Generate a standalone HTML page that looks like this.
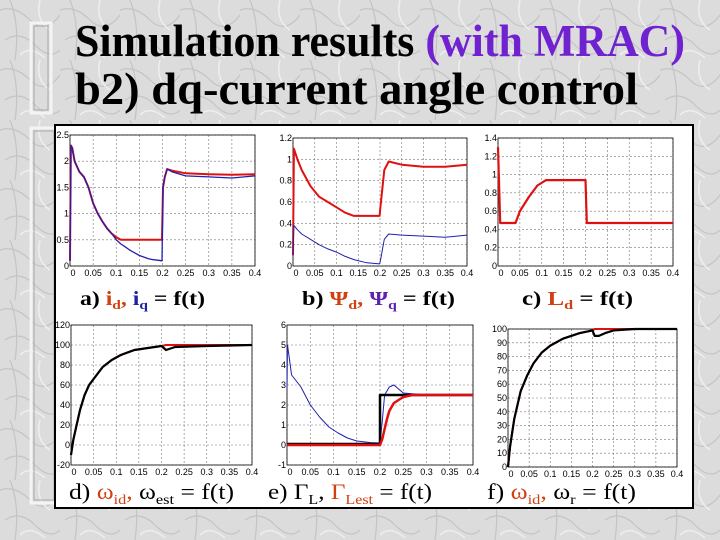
<!DOCTYPE html>
<html><head><meta charset="utf-8"><style>
html,body{margin:0;padding:0;width:720px;height:540px;overflow:hidden;background:#d9d9d9}
svg{display:block}
</style></head><body>
<svg id="s" width="720" height="540" xmlns="http://www.w3.org/2000/svg" font-family="Liberation Serif, serif">
<defs>
<pattern id="marb" width="60" height="60" patternUnits="userSpaceOnUse">
<rect width="60" height="60" fill="#dcdcdc"/>
<path d="M0 10 Q15 5 30 20 T60 15 M5 40 Q20 30 35 45 T60 50 M10 0 Q20 25 15 60" stroke="#c4c4c4" stroke-width="1.2" fill="none"/>
<path d="M40 0 Q35 20 50 30 M20 55 Q30 45 45 58" stroke="#efefef" stroke-width="1.5" fill="none"/>
</pattern>
</defs>
<rect width="720" height="540" fill="url(#marb)"/>
<g>
<rect x="31" y="23" width="20" height="90" fill="none" stroke="#f4f4f4" stroke-width="3"/>
<rect x="34" y="26" width="14" height="84" fill="none" stroke="#a8a8a8" stroke-width="1"/>
<rect x="31" y="128" width="24" height="375" fill="none" stroke="#f4f4f4" stroke-width="3"/>
<rect x="34" y="131" width="20" height="369" fill="none" stroke="#a8a8a8" stroke-width="1"/>
</g>
<text x="75" y="56" font-size="45" font-weight="bold" textLength="610" lengthAdjust="spacingAndGlyphs">Simulation results <tspan fill="#7022d0">(with MRAC)</tspan></text>
<text x="75" y="104" font-size="45" font-weight="bold" textLength="563" lengthAdjust="spacingAndGlyphs">b2) dq-current angle control</text>
<rect x="55" y="125" width="638" height="383" fill="#fff" stroke="#000" stroke-width="2"/>
<g id="plots"></g>
<g font-weight="bold" font-size="20">
<text x="80" y="305" textLength="125" lengthAdjust="spacingAndGlyphs">a) <tspan fill="#d04010">i<tspan font-size="13" dy="4">d</tspan></tspan><tspan dy="-4" fill="#d04010">, </tspan><tspan fill="#2020a0">i<tspan font-size="13" dy="4">q</tspan></tspan><tspan dy="-4"> = f(t)</tspan></text>
<text x="302" y="305" textLength="153" lengthAdjust="spacingAndGlyphs">b) <tspan fill="#d04010">Ψ<tspan font-size="13" dy="4">d</tspan></tspan><tspan dy="-4" fill="#d04010">, </tspan><tspan fill="#6020b0">Ψ<tspan font-size="13" dy="4">q</tspan></tspan><tspan dy="-4"> = f(t)</tspan></text>
<text x="522" y="305" textLength="111" lengthAdjust="spacingAndGlyphs">c)  <tspan fill="#d04010">L<tspan font-size="13" dy="4">d</tspan></tspan><tspan dy="-4"> = f(t)</tspan></text>
</g>
<g font-size="22">
<text x="69" y="499" textLength="165" lengthAdjust="spacingAndGlyphs">d) <tspan fill="#d04010">ω<tspan font-size="14" dy="5">id</tspan></tspan><tspan dy="-5" fill="#d04010">, </tspan>ω<tspan font-size="14" dy="5">est</tspan><tspan dy="-5"> = f(t)</tspan></text>
<text x="268" y="499" textLength="164" lengthAdjust="spacingAndGlyphs">e) Γ<tspan font-size="14" dy="5">L</tspan><tspan dy="-5">, </tspan><tspan fill="#d04010">Γ<tspan font-size="14" dy="5">Lest</tspan></tspan><tspan dy="-5"> = f(t)</tspan></text>
<text x="487" y="499" textLength="149" lengthAdjust="spacingAndGlyphs">f) <tspan fill="#d04010">ω<tspan font-size="14" dy="5">id</tspan></tspan><tspan dy="-5" fill="#d04010">, </tspan>ω<tspan font-size="14" dy="5">r</tspan><tspan dy="-5"> = f(t)</tspan></text>
</g>
</svg>
<script>
const xTicks=[0,0.05,0.1,0.15,0.2,0.25,0.3,0.35,0.4];
const xTickLabels=['0','0.05','0.1','0.15','0.2','0.25','0.3','0.35','0.4'];
// a
const aT=[0,0.002,0.005,0.01,0.02,0.03,0.04,0.05,0.06,0.07,0.08,0.09,0.1,0.11,0.13,0.15,0.17,0.199,0.201,0.205,0.21,0.22,0.25,0.3,0.35,0.4];
const aId=[0.1,2.3,2.25,2.0,1.8,1.7,1.5,1.2,1.0,0.85,0.72,0.62,0.55,0.5,0.5,0.5,0.5,0.5,1.5,1.7,1.85,1.82,1.77,1.75,1.74,1.75];
const aIqT=[0,0.002,0.005,0.01,0.02,0.03,0.04,0.05,0.06,0.07,0.08,0.09,0.1,0.11,0.12,0.13,0.14,0.15,0.16,0.17,0.18,0.19,0.199,0.201,0.205,0.21,0.22,0.25,0.3,0.35,0.4];
const aIq=[0.1,2.3,2.25,2.0,1.8,1.7,1.5,1.2,1.0,0.85,0.72,0.62,0.5,0.42,0.36,0.3,0.25,0.2,0.17,0.14,0.12,0.11,0.1,1.5,1.7,1.85,1.8,1.72,1.7,1.68,1.72];
// b
const bT=[0,0.002,0.01,0.02,0.04,0.06,0.08,0.1,0.12,0.14,0.17,0.199,0.201,0.21,0.22,0.25,0.3,0.35,0.4];
const bPsiD=[0.1,1.1,1.0,0.9,0.75,0.65,0.6,0.55,0.5,0.47,0.47,0.47,0.55,0.9,0.98,0.95,0.93,0.93,0.95];
const bPsiQ=[0.1,0.38,0.34,0.3,0.25,0.2,0.16,0.13,0.09,0.06,0.03,0.02,0.05,0.25,0.3,0.29,0.28,0.27,0.29];
// c
const cT=[0,0.005,0.04,0.05,0.07,0.09,0.11,0.2,0.203,0.4];
const cLd=[1.3,0.47,0.47,0.6,0.75,0.88,0.94,0.94,0.47,0.47];
// d
const dT=[0,0.005,0.01,0.02,0.03,0.04,0.05,0.07,0.09,0.11,0.14,0.17,0.2,0.21,0.23,0.3,0.4];
const dWest=[-10,5,15,35,50,60,66,78,85,90,95,97,99,95,98,99,100];
const dWid=[-10,5,15,35,50,60,66,78,85,90,95,97,99,100,100,100,100];
// e
const eT=[0,0.001,0.01,0.02,0.03,0.05,0.07,0.09,0.11,0.13,0.15,0.18,0.2,0.205,0.21,0.22,0.23,0.25,0.3,0.4];
const eBlue=[2.8,5,3.5,3.2,2.9,2.0,1.4,0.9,0.6,0.35,0.2,0.12,0.1,1.2,2.5,2.9,3.0,2.6,2.5,2.5];
const eLoadT=[0,0.2,0.2001,0.4];
const eLoad=[0.05,0.05,2.5,2.5];
const eEstT=[0,0.2,0.205,0.21,0.215,0.22,0.23,0.25,0.27,0.3,0.4];
const eEst=[0,0,0.3,0.8,1.3,1.7,2.1,2.4,2.5,2.5,2.5];
// f
const fT=[0,0.005,0.015,0.03,0.045,0.06,0.08,0.1,0.13,0.17,0.2,0.205,0.215,0.23,0.25,0.3,0.4];
const fWr=[0,15,35,55,66,75,83,88,93,97,99,95,95,97,99,100,100];
const fWid=[0,15,35,55,66,75,83,88,93,97,99,100,100,100,100,100,100];

const NS='http://www.w3.org/2000/svg';
const root=document.getElementById('plots');
function mk(tag,attrs,parent){const e=document.createElementNS(NS,tag);for(const k in attrs)e.setAttribute(k,attrs[k]);(parent||root).appendChild(e);return e;}
function panel(name,x0,x1,y0,y1,ymin,ymax,yTicks,yLabels,series){
  const g=mk('g',{});
  
  
  const sx=t=>x0+(t-0)/(0.4)*(x1-x0);
  const sy=v=>y1-(v-ymin)/(ymax-ymin)*(y1-y0);
  xTicks.forEach((t,i)=>{
    const l=mk('line',{x1:sx(t),x2:sx(t),y1:y0,y2:y1,stroke:'#777','stroke-width':0.6,'stroke-dasharray':'2,2'},g);
    
    
    const tx=mk('text',{x:sx(t)+(i==0?3:0),y:y1+10,'font-size':9,'font-family':'Liberation Sans, sans-serif','text-anchor':'middle'},g);
    
    
    tx.textContent=xTickLabels[i];
  });
  yTicks.forEach((v,i)=>{
    const l=mk('line',{x1:x0,x2:x1,y1:sy(v),y2:sy(v),stroke:'#777','stroke-width':0.6,'stroke-dasharray':'2,2'},g);
    
    
    const tx=mk('text',{x:x0-1,y:sy(v)+3,'font-size':9,'font-family':'Liberation Sans, sans-serif','text-anchor':'end'},g);
    
    
    tx.textContent=yLabels[i];
  });
  const fr=mk('rect',{x:x0,y:y0,width:x1-x0,height:y1-y0,fill:'none',stroke:'#000','stroke-width':0.8},g);
  
  
  series.forEach(s=>{
    const d=s.t.map((t,i)=>(i?'L':'M')+sx(t).toFixed(1)+' '+sy(s.v[i]).toFixed(1)).join(' ');
    const p=mk('path',{d:d,fill:'none',stroke:s.c,'stroke-width':s.w,'stroke-linejoin':'round'},g);
    
    
  });
}
panel('chart-a-currents',70,255,135,266,0,2.5,[0,0.5,1,1.5,2,2.5],['0','0.5','1','1.5','2','2.5'],[
 {t:aT,v:aId,c:'#e01010',w:2,n:'id-line'},{t:aIqT,v:aIq,c:'#2020b0',w:1.3,n:'iq-line'}]);
panel('chart-b-flux',293,467,138,266,0,1.2,[0,0.2,0.4,0.6,0.8,1,1.2],['0','0.2','0.4','0.6','0.8','1','1.2'],[
 {t:bT,v:bPsiD,c:'#e01010',w:2,n:'psi-d-line'},{t:bT,v:bPsiQ,c:'#2020b0',w:1,n:'psi-q-line'}]);
panel('chart-c-inductance',498,673,138,266,0,1.4,[0,0.2,0.4,0.6,0.8,1,1.2,1.4],['0','0.2','0.4','0.6','0.8','1','1.2','1.4'],[
 {t:cT,v:cLd,c:'#e01010',w:2.2,n:'ld-line'}]);
panel('chart-d-speed-est',71,252,325,465,-20,120,[-20,0,20,40,60,80,100,120],['-20','0','20','40','60','80','100','120'],[
 {t:dT,v:dWid,c:'#e01010',w:2,n:'omega-id-line'},{t:dT,v:dWest,c:'#000',w:2.2,n:'omega-est-line'}]);
panel('chart-e-torque',287,473,325,465,-1,6,[-1,0,1,2,3,4,5,6],['-1','0','1','2','3','4','5','6'],[
 {t:eT,v:eBlue,c:'#2020b0',w:1,n:'torque-blue-line'},{t:eLoadT,v:eLoad,c:'#000',w:2.5,n:'load-torque-line'},{t:eEstT,v:eEst,c:'#e01010',w:2.5,n:'load-torque-est-line'}]);
panel('chart-f-speed',508,677,329,467,0,100,[0,10,20,30,40,50,60,70,80,90,100],['0','10','20','30','40','50','60','70','80','90','100'],[
 {t:fT,v:fWid,c:'#e01010',w:2,n:'omega-id-line'},{t:fT,v:fWr,c:'#000',w:2.2,n:'omega-r-line'}]);
</script>
</body></html>
